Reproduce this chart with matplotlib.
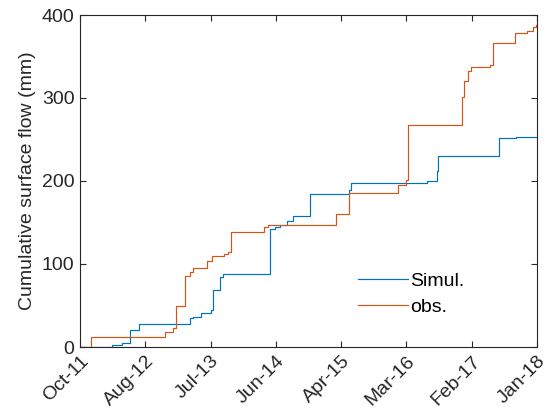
import matplotlib
matplotlib.use("Agg")
import matplotlib.pyplot as plt
import numpy as np
import pandas as pd

plt.rcParams['font.family'] = ['Liberation Sans', 'DejaVu Sans']

# Simulated cumulative surface flow (mm), step values
sim_dates = ["2011-10-01", "2012-03-09", "2012-04-28", "2012-06-07", "2012-07-23",
             "2013-04-03", "2013-04-16", "2013-05-30", "2013-07-19", "2013-07-29",
             "2013-08-30", "2013-09-17", "2014-05-08", "2014-06-02", "2014-06-27",
             "2014-07-30", "2014-09-01", "2014-11-25", "2015-06-08", "2015-06-17",
             "2016-06-29", "2016-08-17", "2016-08-22", "2017-06-27", "2017-09-18",
             "2018-01-01"]
sim_vals = [0, 2.4, 5, 20.5, 27.7,
            34.6, 36, 40.6, 45, 68.7,
            84, 88, 141.8, 144, 147,
            151.5, 157.5, 184.5, 189.5, 197.5,
            200, 212, 230, 251.5, 252.6,
            252.7]

# Observed cumulative surface flow (mm)
obs_dates = ["2011-10-01", "2011-11-25", "2012-11-30", "2013-01-08", "2013-01-25",
             "2013-03-09", "2013-04-03", "2013-04-19", "2013-06-27", "2013-07-22",
             "2013-09-20", "2013-10-08", "2013-10-27", "2014-04-08", "2014-04-28",
             "2015-04-03", "2015-06-05", "2016-02-04", "2016-03-17", "2016-03-29",
             "2016-12-21", "2017-01-01", "2017-01-19", "2017-02-05", "2017-05-11",
             "2017-05-25", "2017-09-13", "2017-11-12", "2017-12-12", "2017-12-27",
             "2018-01-01"]
obs_vals = [0, 12, 18, 23, 49,
            85, 90, 95, 104, 110,
            112, 115, 139, 144, 147,
            160, 185, 195, 201, 267,
            301, 320, 333, 337, 340,
            366, 378, 381, 386, 388,
            388]

tick_labels = ["Oct-11", "Aug-12", "Jul-13", "Jun-14", "Apr-15", "Mar-16", "Feb-17", "Jan-18"]
y_ticks = [0, 100, 200, 300, 400]

start = pd.Timestamp("2011-10-01")
end = pd.Timestamp("2018-01-01")

fig = plt.figure(figsize=(5.53, 4.18), dpi=100)
ax = fig.add_axes([80/553, 1-347/418, 457/553, 332/418])

blue = '#0072BD'
orange = '#D95319'
ax.plot(pd.to_datetime(sim_dates), sim_vals, drawstyle='steps-post', color=blue, lw=0.85, label='Simul.')
ax.plot(pd.to_datetime(obs_dates), obs_vals, drawstyle='steps-post', color=orange, lw=0.85, label='obs.')

ax.set_xlim(start, end)
ax.set_ylim(0, 400)
tick_pos = pd.to_datetime(np.linspace(start.value, end.value, len(tick_labels)))
ax.set_xticks(tick_pos)
ax.set_xticklabels(tick_labels, rotation=45, ha='right', rotation_mode='anchor', fontsize=14)
ax.set_yticks(y_ticks)
ax.set_yticklabels([str(v) for v in y_ticks], fontsize=14)
ax.set_ylabel('Cumulative surface flow (mm)', fontsize=14, color='#262626')

ax.tick_params(direction='in', top=True, right=True, length=4, width=0.8, colors='#262626', pad=4)
for s in ax.spines.values():
    s.set_color('#262626')
    s.set_linewidth(0.8)

leg = ax.legend(loc='upper left', bbox_to_anchor=((358-80)/457, (347-272)/332), frameon=False,
                fontsize=14, handlelength=2.55, handletextpad=0.15, labelspacing=0.45, borderpad=0,
                borderaxespad=0)

fig.savefig('out.png', dpi=100)
